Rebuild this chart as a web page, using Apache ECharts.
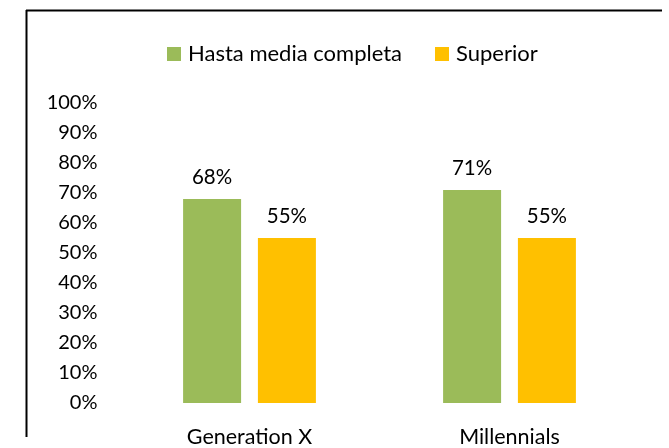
<!DOCTYPE html>
<html><head><meta charset="utf-8">
<script src="https://cdn.jsdelivr.net/npm/echarts@6/dist/echarts.min.js"></script>
<style>html,body{margin:0;padding:0;background:#fff}#c{width:669px;height:448px}</style>
</head><body><div id="c"></div>
<script>
const categories = ["Generation X", "Millennials"];
const seriesNames = ["Hasta media completa", "Superior"];
const hastaMedia = [68, 71];
const superior = [55, 55];
const yTicks = [0, 10, 20, 30, 40, 50, 60, 70, 80, 90, 100];

const FONT = "Lato";
const chart = echarts.init(document.getElementById('c'), null, {renderer: 'canvas'});
const labelStyle = {show: true, position: 'top', distance: 11, formatter: p => p.value + '%', color: '#000', fontFamily: FONT, fontSize: 20.5};
chart.setOption({
  animation: false,
  backgroundColor: '#fff',
  textStyle: {fontFamily: FONT},
  legend: {
    top: 38, left: 162, itemWidth: 14, itemHeight: 14, itemGap: 33,
    icon: 'rect',
    textStyle: {fontFamily: FONT, fontSize: 22, color: '#000', padding: [0,0,0,2]},
    data: seriesNames
  },
  grid: {left: 119.5, right: 29.5, top: 103, bottom: 45},
  xAxis: {
    type: 'category', data: categories,
    axisLine: {show: false}, axisTick: {show: false},
    axisLabel: {color: '#000', fontFamily: FONT, fontSize: 21.5, margin: 23}
  },
  yAxis: {
    type: 'value', min: yTicks[0], max: yTicks[yTicks.length-1], interval: 10,
    splitLine: {show: false}, axisLine: {show: false}, axisTick: {show: false},
    axisLabel: {color: '#000', fontFamily: FONT, fontSize: 20, margin: 22, formatter: v => v + '%'}
  },
  series: [
    {name: seriesNames[0], type: 'bar', data: hastaMedia, itemStyle: {color: '#9BBB59'}, barWidth: 58, barGap: '29%', label: labelStyle},
    {name: seriesNames[1], type: 'bar', data: superior, itemStyle: {color: '#FFC000'}, barWidth: 58, label: labelStyle}
  ],
  graphic: [
    {type: 'line', shape: {x1: 26, y1: 10.5, x2: 662, y2: 10.5}, style: {stroke: '#000', lineWidth: 2}},
    {type: 'line', shape: {x1: 26.5, y1: 10, x2: 26.5, y2: 437}, style: {stroke: '#000', lineWidth: 2}}
  ]
});
</script></body></html>
